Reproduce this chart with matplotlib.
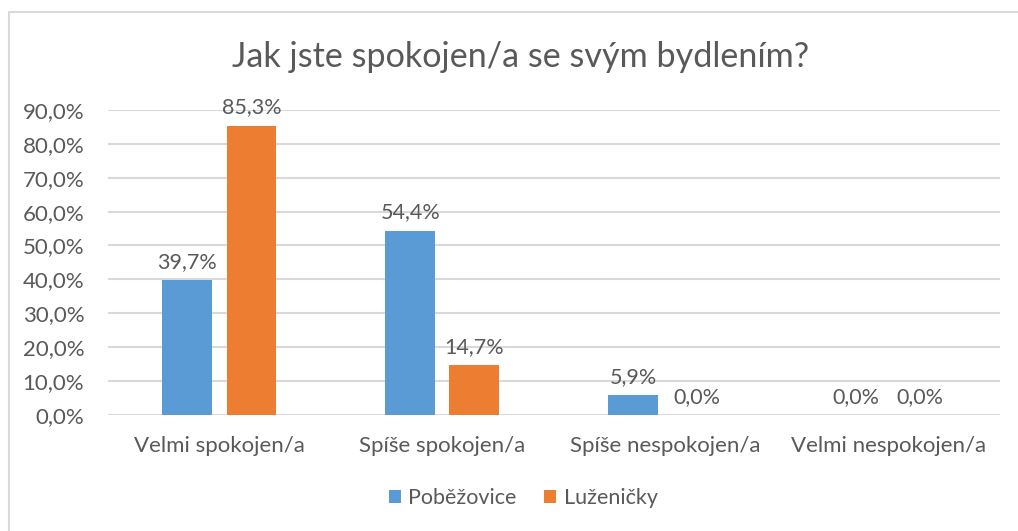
import numpy as np
import matplotlib.pyplot as plt
from matplotlib.patches import Rectangle

plt.rcParams['font.family'] = ['Lato', 'DejaVu Sans']

# data
kategorie = ['Velmi spokojen/a', 'Spíše spokojen/a', 'Spíše nespokojen/a', 'Velmi nespokojen/a']
pobezovice = [39.7, 54.4, 5.9, 0.0]
luzenicky = [85.3, 14.7, 0.0, 0.0]
serie = ['Poběžovice', 'Luženičky']

modra = '#5b9bd5'
oranzova = '#ed7d31'
text_barva = '#595959'

fig = plt.figure(figsize=(10.18, 5.31), dpi=100)
ax = fig.add_axes([0.106, 0.2185, 0.876, 0.5745])

# ramecek grafu
fig.patches.append(Rectangle((9 / 1018, -0.1), 1.2, 1 - 12 / 531 + 0.1,
                             transform=fig.transFigure, fill=False,
                             edgecolor='#d9d9d9', lw=1.5))

x = np.arange(len(kategorie))
w = 0.224
off = 0.144
b1 = ax.bar(x - off, pobezovice, w, color=modra, label=serie[0], zorder=3)
b2 = ax.bar(x + off, luzenicky, w, color=oranzova, label=serie[1], zorder=3)

for bars, vals in [(b1, pobezovice), (b2, luzenicky)]:
    for b, v in zip(bars, vals):
        ax.annotate(f"{v:.1f}%".replace('.', ','), (b.get_x() + b.get_width() / 2, v),
                    textcoords="offset points", xytext=(0, 6), ha='center', va='bottom',
                    fontsize=15.5, color=text_barva)

ax.set_xlim(-0.5, 3.5)
ax.set_ylim(0, 90)
ax.set_yticks(np.arange(0, 91, 10))
ax.set_yticklabels([f"{t:.1f}%".replace('.', ',') for t in np.arange(0, 91, 10)])
ax.set_xticks(x)
ax.set_xticklabels(kategorie)
ax.tick_params(axis='both', length=0, labelsize=16, labelcolor=text_barva)
ax.tick_params(axis='x', pad=15)
ax.tick_params(axis='y', pad=17)
ax.grid(axis='y', color='#d9d9d9', lw=1.5, zorder=0)
ax.set_axisbelow(True)
for s in ax.spines.values():
    s.set_visible(False)

fig.text(0.511, 0.892, 'Jak jste spokojen/a se svým bydlením?', ha='center', va='center',
         fontsize=24.6, color=text_barva)

fig.legend(loc='center', bbox_to_anchor=(0.514, 0.062), ncol=2, frameon=False,
           fontsize=15.5, labelcolor=text_barva, handlelength=0.55, handleheight=0.55,
           handletextpad=0.35, columnspacing=1.3)

fig.savefig('out.png', dpi=100, facecolor='white')
